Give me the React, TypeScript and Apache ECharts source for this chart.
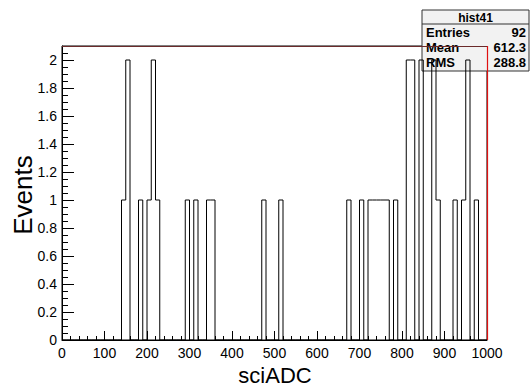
import React, { useEffect, useRef } from "react";
import * as echarts from "echarts";

// Histogram "hist41": 100 bins of width 10 over [0, 1000]
const binWidth = 10;
const xMin = 0;
const xMax = 1000;
// lower edges of the non-empty bins and their contents
const filledBinEdges = [140, 150, 180, 200, 210, 220, 290, 310, 340, 350, 470, 510, 670, 700, 720, 730, 740, 750, 760, 780, 810, 820, 840, 870, 880, 920, 940, 950, 970];
const filledBinCounts = [1, 2, 1, 1, 2, 1, 1, 1, 1, 1, 1, 1, 1, 1, 1, 1, 1, 1, 1, 1, 2, 2, 2, 2, 1, 1, 1, 2, 1];

const statLabels = ["Entries", "Mean", "RMS"];
const statValues = ["92", "612.3", "288.8"];
const histName = "hist41";
const xTitle = "sciADC";
const yTitle = "Events";

const FONT = "'Liberation Sans', Arial, Helvetica, sans-serif";

function buildSteps(): number[][] {
  const pts: number[][] = [];
  for (let e = xMin; e < xMax; e += binWidth) {
    const idx = filledBinEdges.indexOf(e);
    pts.push([e, idx >= 0 ? filledBinCounts[idx] : 0]);
  }
  pts.push([xMax, 0]);
  return pts;
}

export default function App() {
  const ref = useRef<HTMLDivElement>(null);
  useEffect(() => {
    if (!ref.current) return;
    const chart = echarts.init(ref.current, null, { renderer: "svg" });
    const boxX = 422;
    const boxY = 10;
    const boxW = 107;
    const headH = 14;
    const rowH = 15;
    const statChildren: any[] = [
      {
        type: "rect",
        shape: { x: boxX, y: boxY, width: boxW, height: headH + rowH * statLabels.length + 2 },
        style: { fill: "#f2f2f2", stroke: "#333", lineWidth: 1 },
      },
      {
        type: "line",
        shape: { x1: boxX, y1: boxY + headH, x2: boxX + boxW, y2: boxY + headH },
        style: { stroke: "#333", lineWidth: 1 },
      },
      {
        type: "text",
        x: boxX + boxW / 2,
        y: boxY + headH / 2 + 1,
        style: { text: histName, font: `bold 12px ${FONT}`, fill: "#000", align: "center", verticalAlign: "middle" },
      },
    ];
    statLabels.forEach((lab, i) => {
      const cy = boxY + headH + rowH * i + rowH / 2 + 1;
      statChildren.push({
        type: "text",
        x: boxX + 4,
        y: cy,
        style: { text: lab, font: `bold 13px ${FONT}`, fill: "#000", align: "left", verticalAlign: "middle" },
      });
      statChildren.push({
        type: "text",
        x: boxX + boxW - 3,
        y: cy,
        style: { text: statValues[i], font: `bold 13px ${FONT}`, fill: "#000", align: "right", verticalAlign: "middle" },
      });
    });

    chart.setOption({
      animation: false,
      backgroundColor: "#fff",
      grid: { left: 62, right: 44, top: 46, bottom: 48, show: true, borderColor: "#000", borderWidth: 1, backgroundColor: "transparent" },
      xAxis: {
        type: "value",
        min: xMin,
        max: xMax,
        interval: 100,
        axisLine: { show: true, onZero: false, lineStyle: { color: "#000", width: 1 } },
        axisTick: { show: true, inside: true, length: 9, lineStyle: { color: "#000" } },
        minorTick: { show: true, splitNumber: 5, length: 4, lineStyle: { color: "#000" } },
        splitLine: { show: false },
        axisLabel: { color: "#000", fontSize: 14, fontFamily: FONT, margin: 6, formatter: (v: number) => String(v) },
      },
      yAxis: {
        type: "value",
        min: 0,
        max: 2.1,
        interval: 0.2,
        axisLine: { show: true, onZero: false, lineStyle: { color: "#000", width: 1 } },
        axisTick: { show: true, inside: true, length: 12, lineStyle: { color: "#000" } },
        minorTick: { show: true, splitNumber: 4, length: 6, lineStyle: { color: "#000" } },
        splitLine: { show: false },
        axisLabel: {
          color: "#000",
          fontSize: 14,
          fontFamily: FONT,
          margin: 5,
          showMaxLabel: false,
          formatter: (v: number) => {
            const r = Math.round(v * 10) / 10;
            if (Math.abs(r - v) > 1e-6 || r > 2.05) return "";
            return String(r);
          },
        },
      },
      series: [
        {
          type: "line",
          step: "end",
          data: buildSteps(),
          symbol: "none",
          clip: false,
          lineStyle: { color: "#000", width: 1 },
          markLine: {
            silent: true,
            symbol: "none",
            label: { show: false },
            z: 10,
            data: [
              { xAxis: xMax, lineStyle: { color: "#e01010", width: 1.2, type: "solid" } },
              { yAxis: 2.1, lineStyle: { color: "#6a2a2a", width: 1, type: "solid" } },
            ],
          },
          z: 3,
        },
      ],
      graphic: [
        {
          type: "text",
          x: 23,
          y: 195,
          rotation: Math.PI / 2,
          style: { text: yTitle, font: `26px ${FONT}`, fill: "#000", align: "center", verticalAlign: "middle" },
        },
        {
          type: "text",
          x: 275,
          y: 375,
          style: { text: xTitle, font: `22px ${FONT}`, fill: "#000", align: "center", verticalAlign: "middle" },
        },
        { type: "group", z: 100, children: statChildren },
      ],
    });
    return () => chart.dispose();
  }, []);
  return <div ref={ref} style={{ position: "fixed", left: 0, top: 0, width: 531, height: 388 }} />;
}
